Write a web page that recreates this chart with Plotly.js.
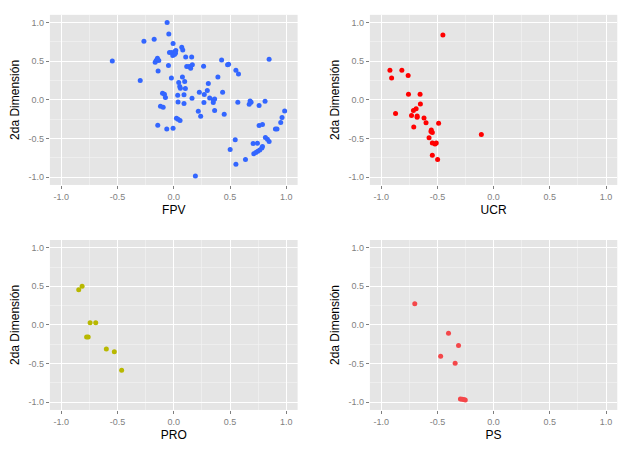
<!DOCTYPE html>
<html><head><meta charset="utf-8">
<script src="https://cdn.plot.ly/plotly-3.0.1.min.js"></script>
<style>body{margin:0;padding:0;background:#fff}#chart{width:640px;height:450px}</style>
</head><body><div id="chart"></div>
<script>
const fpvX = [-0.059,-0.044,-0.265,-0.174,-0.546,-0.006,0.071,0.080,-0.038,-0.018,0.012,0.018,-0.009,0.006,0.015,0.106,0.159,-0.145,-0.156,-0.165,-0.133,-0.139,-0.047,0.115,0.136,0.150,0.165,0.265,0.425,0.478,0.487,0.552,0.575,0.847,-0.298,-0.021,0.077,0.097,0.044,0.053,0.059,0.103,0.307,0.392,0.227,0.298,0.434,-0.100,-0.083,-0.074,0.035,0.091,0.162,0.319,0.351,0.363,0.268,0.271,0.038,0.091,0.351,0.363,0.448,0.218,0.239,-0.118,-0.094,0.024,0.038,0.056,-0.142,-0.062,-0.006,0.192,0.569,0.678,0.687,0.670,0.811,0.758,0.758,0.788,0.546,0.501,0.552,0.637,0.705,0.743,0.711,0.729,0.746,0.764,0.782,0.788,0.814,0.832,0.847,0.903,0.917,0.950,0.962,0.985];
const fpvY = [1.000,0.853,0.759,0.784,0.504,0.728,0.681,0.647,0.612,0.612,0.625,0.638,0.573,0.586,0.603,0.556,0.556,0.539,0.509,0.487,0.509,0.375,0.444,0.431,0.431,0.409,0.453,0.435,0.517,0.453,0.461,0.384,0.336,0.526,0.250,0.284,0.297,0.237,0.224,0.172,0.151,0.147,0.211,0.297,0.099,0.121,0.099,0.086,0.073,0.030,0.060,0.065,0.022,0.026,0.000,0.013,-0.034,0.069,-0.026,-0.047,-0.034,-0.138,-0.185,-0.147,-0.211,-0.082,-0.095,-0.237,-0.250,-0.267,-0.328,-0.375,-0.366,-0.983,-0.030,-0.013,-0.030,-0.056,-0.017,-0.073,-0.332,-0.319,-0.517,-0.642,-0.832,-0.772,-0.565,-0.560,-0.698,-0.681,-0.664,-0.647,-0.621,-0.603,-0.487,-0.509,-0.539,-0.375,-0.375,-0.293,-0.228,-0.142];
const ucrX = [-0.451,-0.922,-0.816,-0.907,-0.760,-0.757,-0.654,-0.651,-0.689,-0.713,-0.872,-0.730,-0.680,-0.680,-0.619,-0.601,-0.489,-0.710,-0.554,-0.557,-0.545,-0.574,-0.545,-0.521,-0.510,-0.545,-0.498,-0.109];
const ucrY = [0.841,0.384,0.384,0.284,0.315,0.073,0.073,-0.052,-0.116,-0.138,-0.177,-0.203,-0.207,-0.224,-0.233,-0.297,-0.302,-0.349,-0.388,-0.409,-0.422,-0.491,-0.556,-0.569,-0.556,-0.716,-0.772,-0.448];
const proX = [-0.814,-0.844,-0.743,-0.693,-0.774,-0.760,-0.599,-0.528,-0.463];
const proY = [0.500,0.457,0.030,0.030,-0.155,-0.155,-0.310,-0.345,-0.586];
const psX = [-0.701,-0.401,-0.312,-0.471,-0.342,-0.295,-0.280,-0.265,-0.252];
const psY = [0.276,-0.108,-0.267,-0.405,-0.496,-0.957,-0.962,-0.966,-0.970];
const panelNames = ["FPV","UCR","PRO","PS"];
const panelColors = ["#3366FF","#FF0000","#B8B800","#F4474A"];
const tickVals = [-1,-0.5,0,0.5,1];
const tickText = ["-1.0","-0.5","0.0","0.5","1.0"];
const yTitle = "2da Dimensión";

const xs=[fpvX,ucrX,proX,psX], ys=[fpvY,ucrY,proY,psY];
const xdom=[[0.078,0.465],[0.578,0.9645],[0.078,0.465],[0.578,0.9645]];
const ydom=[[0.589,0.967],[0.589,0.967],[0.089,0.4667],[0.089,0.4667]];
const data=[], layout={width:640,height:450,margin:{l:0,r:0,t:0,b:0},paper_bgcolor:"#fff",plot_bgcolor:"#E5E5E5",showlegend:false,font:{family:"Liberation Sans, Arial, sans-serif"}};
function ax(dom, anchor, title, isY){
  return {domain:dom, anchor:anchor, range:[-1.1,1.1], tickvals:tickVals, ticktext:tickText,
    showgrid:true, gridcolor:"#FFFFFF", gridwidth:1, zeroline:false, showline:false,
    ticks:"outside", ticklen:3, tickwidth:1, tickcolor:"#7F7F7F",
    tickfont:{size:9,color:"#7F7F7F"},
    minor:{tickvals:[-0.75,-0.25,0.25,0.75], showgrid:true, gridcolor:"#F2F2F2", gridwidth:0.7, ticks:""},
    title:{text:title, font:{size:12,color:"#000"}, standoff: isY?6:4},
    fixedrange:true};
}
for(let i=0;i<4;i++){
  const s=i===0?"":String(i+1);
  data.push({type:"scatter",mode:"markers",x:xs[i],y:ys[i],xaxis:"x"+s,yaxis:"y"+s,
    marker:{color:panelColors[i],size:5,line:{width:0}},hoverinfo:"skip"});
  layout["xaxis"+s]=ax(xdom[i],"y"+s,panelNames[i],false);
  layout["yaxis"+s]=ax(ydom[i],"x"+s,yTitle,true);
}
Plotly.newPlot("chart",data,layout,{displayModeBar:false,staticPlot:true});
</script></body></html>
